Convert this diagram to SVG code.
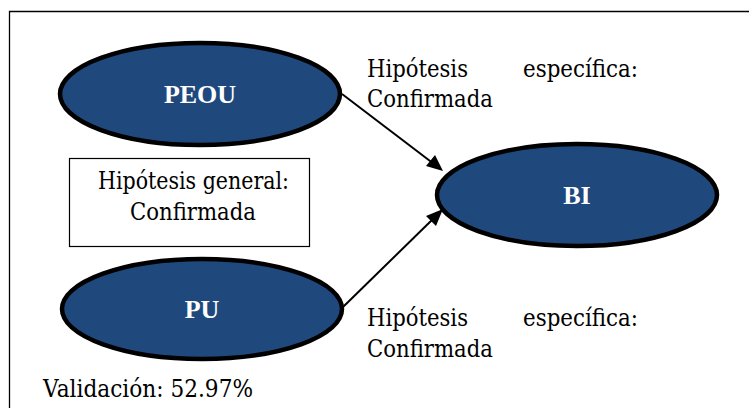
<svg xmlns="http://www.w3.org/2000/svg" width="749" height="408" viewBox="0 0 749 408">
<defs>
<style>
.t{font-family:"DejaVu Serif",serif;font-size:24px;fill:#000}
.b{font-family:"Liberation Serif",serif;font-size:26px;font-weight:bold;fill:#fff;text-anchor:middle}
.el{fill:#1f497d;stroke:#000;stroke-width:4.5}
.c{stroke:#000;stroke-width:2;fill:none}
</style>
</defs>
<rect width="749" height="408" fill="#fff"/>
<g id="frame">
<path d="M9.5,408 V11.5 H749" fill="none" stroke="#000" stroke-width="1.3"/>
</g>
<g id="connectors">
<line class="c" x1="342" y1="94" x2="434" y2="164"/>
<path d="M443,171 L426,166 L435,155 z" fill="#000"/>
<line class="c" x1="343" y1="307" x2="434" y2="218"/>
<path d="M443,209 L436,226 L426,216 z" fill="#000"/>
</g>
<g id="PEOU">
<ellipse class="el" cx="200" cy="94" rx="140" ry="51"/>
<text class="b" x="200" y="103">PEOU</text>
</g>
<g id="BI">
<ellipse class="el" cx="577" cy="195" rx="140" ry="51"/>
<text class="b" x="577" y="204">BI</text>
</g>
<g id="PU">
<ellipse class="el" cx="202" cy="309" rx="140" ry="50"/>
<text class="b" x="202" y="318">PU</text>
</g>
<g id="general">
<rect x="69.5" y="158.5" width="240" height="88" fill="#fff" stroke="#000" stroke-width="1.2"/>
<text class="t" x="98" y="189" textLength="191" lengthAdjust="spacingAndGlyphs">Hipótesis general:</text>
<text class="t" x="130" y="220" textLength="126" lengthAdjust="spacingAndGlyphs">Confirmada</text>
</g>
<g id="label-top">
<text class="t" x="367" y="77" textLength="101" lengthAdjust="spacingAndGlyphs">Hipótesis</text>
<text class="t" x="523" y="77" textLength="115" lengthAdjust="spacingAndGlyphs">específica:</text>
<text class="t" x="367" y="107" textLength="126" lengthAdjust="spacingAndGlyphs">Confirmada</text>
</g>
<g id="label-bottom">
<text class="t" x="367" y="326" textLength="101" lengthAdjust="spacingAndGlyphs">Hipótesis</text>
<text class="t" x="523" y="326" textLength="115" lengthAdjust="spacingAndGlyphs">específica:</text>
<text class="t" x="367" y="357" textLength="126" lengthAdjust="spacingAndGlyphs">Confirmada</text>
</g>
<g id="validacion">
<text class="t" x="43" y="397" textLength="210" lengthAdjust="spacingAndGlyphs">Validación: 52.97%</text>
</g>
</svg>
